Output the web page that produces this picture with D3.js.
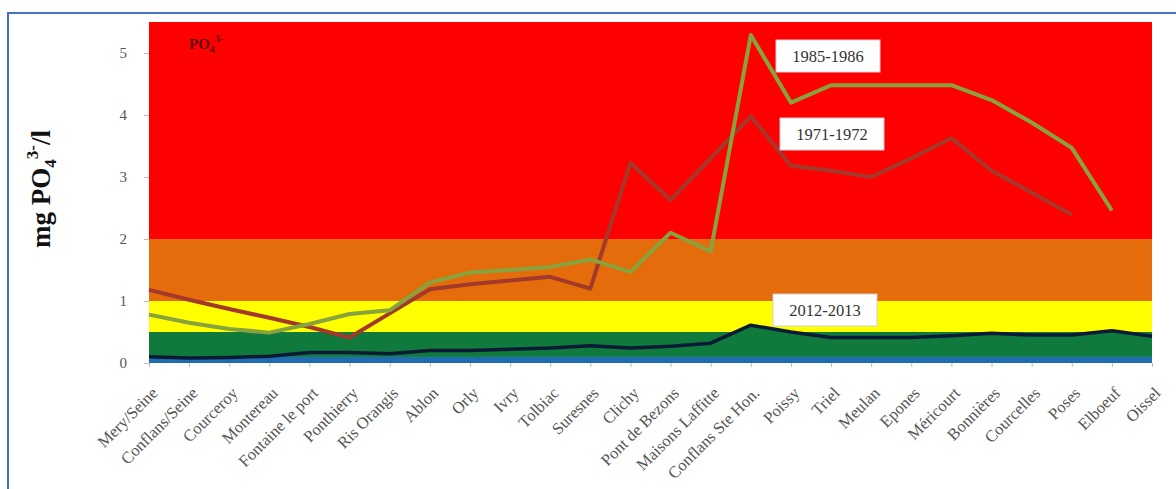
<!DOCTYPE html>
<html>
<head>
<meta charset="utf-8">
<script src="https://cdn.jsdelivr.net/npm/d3@7/dist/d3.min.js"></script>
<style>
  html, body { margin: 0; padding: 0; background: #ffffff; }
  svg { display: block; }
  text { font-family: "Liberation Serif", "Times New Roman", serif; }
</style>
</head>
<body>
<svg id="chart" width="1176" height="489"></svg>
<script>
// Sampling stations along the Seine, upstream to downstream
const stations = [
  "Mery/Seine", "Conflans/Seine", "Courceroy", "Montereau", "Fontaine le port",
  "Ponthierry", "Ris Orangis", "Ablon", "Orly", "Ivry", "Tolbiac", "Suresnes",
  "Clichy", "Pont de Bezons", "Maisons Laffitte", "Conflans Ste Hon.", "Poissy",
  "Triel", "Meulan", "Epones", "Méricourt", "Bonnières", "Courcelles", "Poses",
  "Elboeuf", "Oissel"
];

// Mean PO4 3- concentrations (mg/l); null = no measurement
const values1971 = [1.18, 1.02, 0.87, 0.73, 0.58, 0.41, 0.8, 1.19, 1.27, 1.33, 1.39, 1.2,
  3.23, 2.63, 3.3, 3.98, 3.18, 3.1, 3.0, 3.3, 3.63, 3.1, 2.75, 2.39, null, null];
const values1985 = [0.78, 0.65, 0.55, 0.49, 0.63, 0.79, 0.85, 1.3, 1.46, 1.5, 1.55, 1.67,
  1.47, 2.1, 1.8, 5.29, 4.2, 4.48, 4.48, 4.48, 4.48, 4.24, 3.88, 3.47, 2.46, null];
const values2012 = [0.1, 0.08, 0.09, 0.11, 0.17, 0.17, 0.15, 0.2, 0.2, 0.22, 0.24, 0.28,
  0.24, 0.27, 0.32, 0.61, 0.5, 0.41, 0.41, 0.41, 0.44, 0.48, 0.45, 0.45, 0.52, 0.43];

// Quality classes (lower bound, upper bound, colour)
const classLow = [0, 0.1, 0.5, 1, 2];
const classHigh = [0.1, 0.5, 1, 2, 5.5];
const classColors = ["#1f6db0", "#0f7a3c", "#ffff00", "#e46c0a", "#ff0000"];

const yTicks = [0, 1, 2, 3, 4, 5];

const svg = d3.select("#chart");

// Frame around the figure
svg.append("path")
  .attr("d", "M8,489 L8,13 L1176,13")
  .attr("fill", "none")
  .attr("stroke", "#4472c4")
  .attr("stroke-width", 2);

const plot = { left: 149, right: 1152, top: 22, bottom: 363 };

const x = d3.scalePoint().domain(stations).range([plot.left, plot.right]);
const y = d3.scaleLinear().domain([0, 5.5]).range([plot.bottom, plot.top]);

// Quality class bands
svg.append("g").selectAll("rect")
  .data(classLow.map((lo, i) => ({ lo, hi: classHigh[i], c: classColors[i] })))
  .join("rect")
  .attr("x", plot.left)
  .attr("width", plot.right - plot.left)
  .attr("y", d => y(d.hi))
  .attr("height", d => y(d.lo) - y(d.hi))
  .attr("fill", d => d.c);

// Green area beneath the 2012-2013 curve
const pts2012 = stations.map((s, i) => ({ s, v: values2012[i] }));
svg.append("path")
  .datum(pts2012)
  .attr("fill", classColors[1])
  .attr("d", d3.area().x(d => x(d.s)).y0(y(0.1)).y1(d => y(d.v)));

// Axes
const yAxis = svg.append("g")
  .attr("transform", `translate(${plot.left},0)`)
  .call(d3.axisLeft(y).tickValues(yTicks).tickSize(5).tickPadding(17).tickFormat(d3.format("d")));
yAxis.select(".domain").remove();
yAxis.selectAll("line").attr("stroke", "#bbbbbb");
yAxis.selectAll("text").attr("font-size", 15).attr("fill", "#555");

const xAxis = svg.append("g")
  .attr("transform", `translate(0,${plot.bottom})`)
  .call(d3.axisBottom(x).tickSize(4));
xAxis.select(".domain").remove();
xAxis.selectAll("line").attr("stroke", "#bbbbbb");
xAxis.selectAll("text")
  .attr("x", 0)
  .attr("y", 0)
  .attr("font-size", 16.5)
  .attr("fill", "#555")
  .attr("text-anchor", "end")
  .attr("dy", "0.35em")
  .attr("transform", "translate(5,27) rotate(-45)");

// Concentration curves
const series = [
  { vals: values1971, color: "#a3392a", width: 4 },
  { vals: values1985, color: "#88a23c", width: 4 },
  { vals: values2012, color: "#0c1a36", width: 3.5 }
];
const line = d3.line()
  .defined(d => d.v !== null)
  .x(d => x(d.s))
  .y(d => y(d.v));
svg.append("g").selectAll("path")
  .data(series)
  .join("path")
  .attr("fill", "none")
  .attr("stroke", d => d.color)
  .attr("stroke-width", d => d.width)
  .attr("stroke-linejoin", "round")
  .attr("d", d => line(stations.map((s, i) => ({ s, v: d.vals[i] }))));

// Period labels
const periodLabels = [
  { text: "1985-1986", x: 776, y: 40 },
  { text: "1971-1972", x: 780, y: 118 },
  { text: "2012-2013", x: 773, y: 294 }
];
const lbl = svg.append("g").selectAll("g")
  .data(periodLabels)
  .join("g")
  .attr("transform", d => `translate(${d.x},${d.y})`);
lbl.append("rect")
  .attr("width", 104).attr("height", 32)
  .attr("fill", "#ffffff")
  .attr("stroke", "#d0d0d0");
lbl.append("text")
  .attr("x", 52).attr("y", 22)
  .attr("text-anchor", "middle")
  .attr("font-size", 16.5)
  .attr("fill", "#333")
  .text(d => d.text);

// Parameter tag
const tag = svg.append("text")
  .attr("x", 189).attr("y", 49)
  .attr("font-size", 15)
  .attr("font-weight", "bold")
  .attr("fill", "#5a0a0a");
tag.append("tspan").text("PO");
tag.append("tspan").attr("font-size", 10).attr("dy", 4).text("4");
tag.append("tspan").attr("font-size", 10).attr("dy", -11).text("3-");

// Y axis title
const yt = svg.append("text")
  .attr("transform", "translate(50,189) rotate(-90)")
  .attr("text-anchor", "middle")
  .attr("font-size", 27)
  .attr("font-weight", "bold")
  .attr("fill", "#111");
yt.append("tspan").text("mg PO");
yt.append("tspan").attr("font-size", 17).attr("dy", 6).text("4");
yt.append("tspan").attr("font-size", 17).attr("dy", -18).text("3-");
yt.append("tspan").attr("dy", 12).text("/l");
</script>
</body>
</html>
